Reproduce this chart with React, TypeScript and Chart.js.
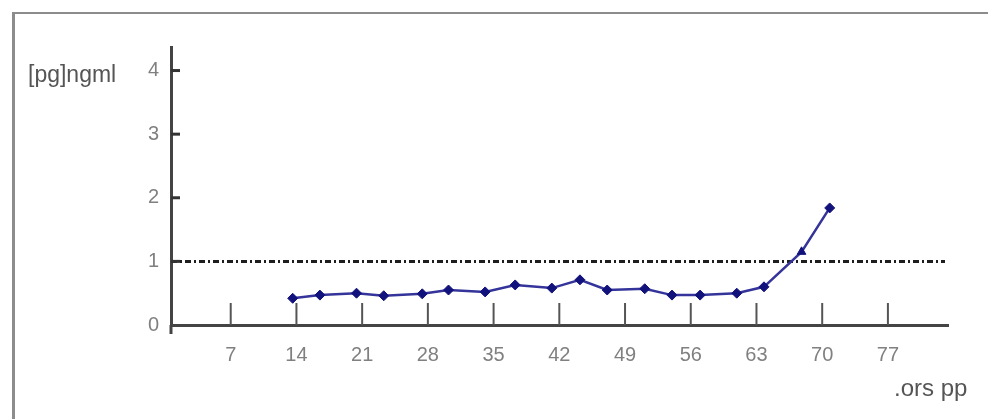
import React, { useEffect, useRef } from "react";
import { Chart, registerables } from "chart.js";

Chart.register(...registerables);

// ---- data ----
const DAYS = [13.6, 16.5, 20.4, 23.3, 27.4, 30.2, 34.1, 37.3, 41.2, 44.2, 47.1, 51.1, 54.0, 57.0, 60.9, 63.8, 67.8, 70.8];
const VALUES = [0.42, 0.47, 0.5, 0.46, 0.49, 0.55, 0.52, 0.63, 0.58, 0.71, 0.55, 0.57, 0.47, 0.47, 0.5, 0.6, 1.15, 1.84];
const POINT_STYLES = ["rectRot", "rectRot", "rectRot", "rectRot", "rectRot", "rectRot", "rectRot", "rectRot", "rectRot", "rectRot", "rectRot", "rectRot", "rectRot", "rectRot", "rectRot", "rectRot", "triangle", "rectRot"];
const X_TICKS = [7, 14, 21, 28, 35, 42, 49, 56, 63, 70, 77];
const X_TICK_LABELS = ["7", "14", "21", "28", "35", "42", "49", "56", "63", "70", "77"];
const Y_TICKS = [0, 1, 2, 3, 4];
const Y_TICK_MARKS = [1, 2, 3, 4];
const THRESHOLD = 1;
const X_MIN = 0.64;
const X_MAX = 83.4;
const Y_MIN = 0;
const Y_MAX = 4.37;
const Y_TITLE = "[pg]ngml";
const X_TITLE = ".ors pp";

const overlayPlugin = {
  id: "overlay",
  beforeDatasetsDraw(chart: any) {
    const { ctx, chartArea, scales } = chart;
    const y = scales.y.getPixelForValue(THRESHOLD);
    ctx.save();
    ctx.strokeStyle = "#1e1e1e";
    ctx.lineWidth = 3;
    ctx.setLineDash([6, 3, 2, 3]);
    ctx.beginPath();
    ctx.moveTo(chartArea.left, y);
    ctx.lineTo(chartArea.right - 3, y);
    ctx.stroke();
    ctx.restore();
  },
  afterDraw(chart: any) {
    const { ctx, chartArea, scales } = chart;
    ctx.save();
    ctx.strokeStyle = "#555";
    ctx.lineWidth = 2;
    X_TICKS.forEach((v) => {
      const x = scales.x.getPixelForValue(v);
      ctx.beginPath();
      ctx.moveTo(x, chartArea.bottom);
      ctx.lineTo(x, chartArea.bottom - 22);
      ctx.stroke();
    });
    ctx.strokeStyle = "#333";
    ctx.lineWidth = 3;
    Y_TICK_MARKS.forEach((v) => {
      const y = scales.y.getPixelForValue(v);
      ctx.beginPath();
      ctx.moveTo(chartArea.left, y);
      ctx.lineTo(chartArea.left + 9, y);
      ctx.stroke();
    });
    ctx.strokeStyle = "#444";
    ctx.lineWidth = 3;
    ctx.beginPath();
    ctx.moveTo(chartArea.left, chartArea.bottom);
    ctx.lineTo(chartArea.left, chartArea.bottom + 9);
    ctx.stroke();
    ctx.restore();
  },
};

export default function App() {
  const ref = useRef<HTMLCanvasElement | null>(null);

  useEffect(() => {
    if (!ref.current) return;
    const chart = new Chart(ref.current, {
      type: "line",
      data: {
        datasets: [
          {
            label: "series",
            data: DAYS.map((d, i) => ({ x: d, y: VALUES[i] })),
            borderColor: "#34349a",
            borderWidth: 2.5,
            backgroundColor: "#12127c",
            pointBackgroundColor: "#12127c",
            pointBorderColor: "#12127c",
            pointStyle: POINT_STYLES as any,
            pointRadius: 5,
            pointBorderWidth: 1,
            tension: 0,
          },
        ],
      },
      options: {
        animation: false,
        responsive: false,
        maintainAspectRatio: false,
        layout: { padding: { left: 0, top: 47, right: 40, bottom: 0 } },
        plugins: { legend: { display: false }, tooltip: { enabled: false } },
        scales: {
          x: {
            type: "linear",
            min: X_MIN,
            max: X_MAX,
            afterBuildTicks: (s: any) => {
              s.ticks = X_TICKS.map((v) => ({ value: v }));
            },
            afterFit: (s: any) => {
              s.height = 94;
            },
            grid: { display: false, drawTicks: false },
            border: { display: true, color: "#444", width: 3 },
            ticks: {
              padding: 18,
              color: "#808080",
              font: { family: "Liberation Sans", size: 20 },
              callback: (v: any) => {
                const i = X_TICKS.indexOf(Number(v));
                return i >= 0 ? X_TICK_LABELS[i] : "";
              },
            },
          },
          y: {
            type: "linear",
            min: Y_MIN,
            max: Y_MAX,
            afterBuildTicks: (s: any) => {
              s.ticks = Y_TICKS.map((v) => ({ value: v }));
            },
            afterFit: (s: any) => {
              s.width = 171;
            },
            grid: { display: false, drawTicks: false },
            border: { display: true, color: "#444", width: 3 },
            ticks: {
              padding: 12,
              color: "#808080",
              font: { family: "Liberation Sans", size: 20 },
              callback: (v: any) => String(v),
            },
          },
        },
      },
      plugins: [overlayPlugin],
    });
    return () => chart.destroy();
  }, []);

  return (
    <div
      style={{
        position: "fixed",
        left: 0,
        top: 0,
        width: 988,
        height: 419,
        overflow: "hidden",
        background: "#fff",
        fontFamily: "Liberation Sans, sans-serif",
        filter: "blur(0.5px)",
      }}
    >
      <div
        style={{
          position: "absolute",
          left: 12,
          top: 12,
          width: 1000,
          height: 420,
          borderTop: "2px solid #8c8c8c",
          borderLeft: "3px solid #8c8c8c",
        }}
      />
      <canvas ref={ref} width={988} height={419} style={{ position: "absolute", left: 0, top: 0 }} />
      <div
        style={{
          position: "absolute",
          left: 28,
          top: 60,
          fontSize: 23,
          color: "#555",
          lineHeight: "28px",
        }}
      >
        {Y_TITLE}
      </div>
      <div
        style={{
          position: "absolute",
          left: 894,
          top: 374,
          fontSize: 24,
          color: "#555",
          lineHeight: "28px",
        }}
      >
        {X_TITLE}
      </div>
    </div>
  );
}
